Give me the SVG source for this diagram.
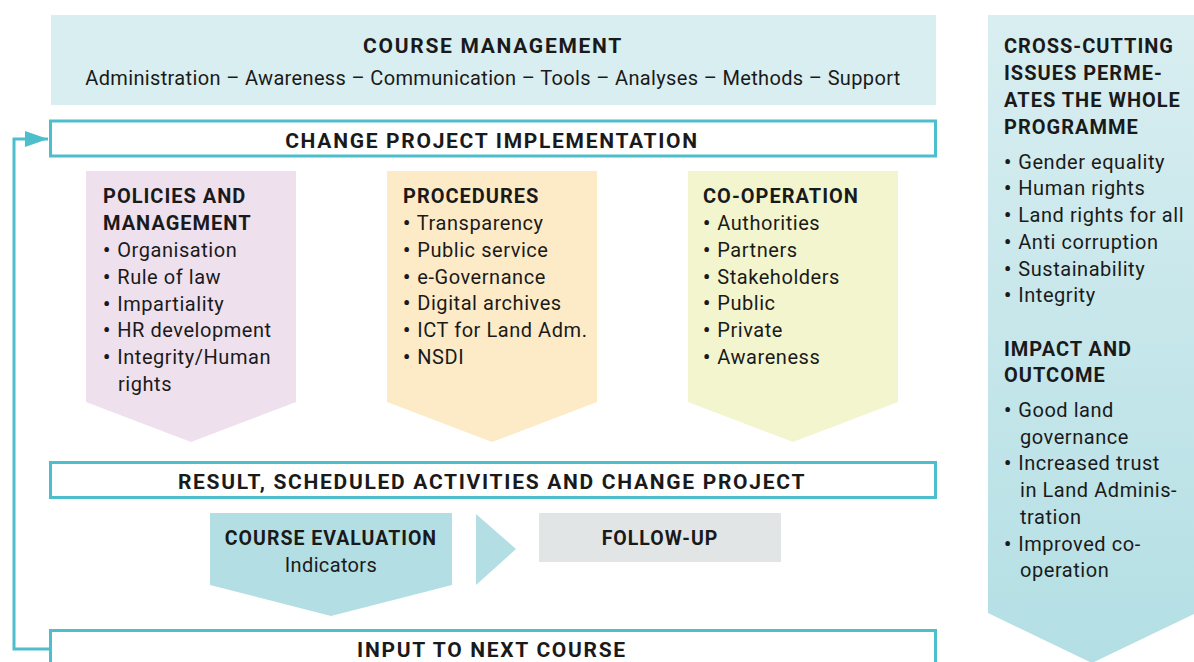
<svg xmlns="http://www.w3.org/2000/svg" width="1194" height="662" viewBox="0 0 1194 662">
<defs>
<style>
text{font-family:Roboto,"Liberation Sans",sans-serif;fill:#1a1a1a;}
.t{font-size:20px;font-weight:bold;letter-spacing:1px;}
.tc{font-size:21px;font-weight:bold;letter-spacing:1.7px;text-anchor:middle;}
.ts{font-size:19.5px;font-weight:bold;letter-spacing:1px;text-anchor:middle;}
.r{font-size:20px;letter-spacing:0.55px;}
.b{font-weight:bold;}
.rc{font-size:20px;letter-spacing:0.35px;text-anchor:middle;}
.bar{fill:#ffffff;stroke:#4dbfcc;stroke-width:3;}
.conn{fill:none;stroke:#4dbfcc;stroke-width:3;}
</style>
<linearGradient id="side" x1="0" y1="0" x2="0" y2="1">
<stop offset="0" stop-color="#d9eef1"/>
<stop offset="1" stop-color="#b3dfe4"/>
</linearGradient>
<marker id="ah" markerWidth="24" markerHeight="16" refX="23" refY="8" orient="auto" markerUnits="userSpaceOnUse">
<path d="M0,0 L23,8 L0,16 Z" fill="#4dbfcc"/>
</marker>
</defs>

<g id="connectors">
<path class="conn" d="M50,649 H14 V139 H48" marker-end="url(#ah)"/>
</g>

<g id="course-management">
<rect x="51" y="15" width="885" height="90" fill="#d9eef1"/>
<text class="tc" x="493" y="53">COURSE MANAGEMENT</text>
<text class="rc" x="493" y="85">Administration – Awareness – Communication – Tools – Analyses – Methods – Support</text>
</g>

<g id="change-project">
<rect class="bar" x="50.5" y="121" width="885" height="35"/>
<text class="tc" x="492" y="148">CHANGE PROJECT IMPLEMENTATION</text>
</g>

<g id="policies">
<polygon points="86,171 296,171 296,402 191,442 86,402" fill="#efe0ee"/>
<text class="t" x="103" y="203">POLICIES AND</text>
<text class="t" x="103" y="230">MANAGEMENT</text>
<text class="r" x="103" y="257"><tspan class="b">•</tspan><tspan dx="1"> Organisation</tspan></text>
<text class="r" x="103" y="284"><tspan class="b">•</tspan><tspan dx="1"> Rule of law</tspan></text>
<text class="r" x="103" y="311"><tspan class="b">•</tspan><tspan dx="1"> Impartiality</tspan></text>
<text class="r" x="103" y="337"><tspan class="b">•</tspan><tspan dx="1"> HR development</tspan></text>
<text class="r" x="103" y="364"><tspan class="b">•</tspan><tspan dx="1"> Integrity/Human</tspan></text>
<text class="r" x="118" y="391">rights</text>
</g>

<g id="procedures">
<polygon points="387,171 597,171 597,402 492,442 387,402" fill="#fdebc8"/>
<text class="t" x="403" y="203">PROCEDURES</text>
<text class="r" x="403" y="230"><tspan class="b">•</tspan><tspan dx="1"> Transparency</tspan></text>
<text class="r" x="403" y="257"><tspan class="b">•</tspan><tspan dx="1"> Public service</tspan></text>
<text class="r" x="403" y="284"><tspan class="b">•</tspan><tspan dx="1"> e-Governance</tspan></text>
<text class="r" x="403" y="310"><tspan class="b">•</tspan><tspan dx="1"> Digital archives</tspan></text>
<text class="r" x="403" y="337"><tspan class="b">•</tspan><tspan dx="1"> ICT for Land Adm.</tspan></text>
<text class="r" x="403" y="364"><tspan class="b">•</tspan><tspan dx="1"> NSDI</tspan></text>
</g>

<g id="cooperation">
<polygon points="688,171 898,171 898,402 793,442 688,402" fill="#f3f5cf"/>
<text class="t" x="703" y="203">CO-OPERATION</text>
<text class="r" x="703" y="230"><tspan class="b">•</tspan><tspan dx="1"> Authorities</tspan></text>
<text class="r" x="703" y="257"><tspan class="b">•</tspan><tspan dx="1"> Partners</tspan></text>
<text class="r" x="703" y="284"><tspan class="b">•</tspan><tspan dx="1"> Stakeholders</tspan></text>
<text class="r" x="703" y="310"><tspan class="b">•</tspan><tspan dx="1"> Public</tspan></text>
<text class="r" x="703" y="337"><tspan class="b">•</tspan><tspan dx="1"> Private</tspan></text>
<text class="r" x="703" y="364"><tspan class="b">•</tspan><tspan dx="1"> Awareness</tspan></text>
</g>

<g id="result">
<rect class="bar" x="50.5" y="462.5" width="885" height="35"/>
<text class="tc" x="492" y="489">RESULT, SCHEDULED ACTIVITIES AND CHANGE PROJECT</text>
</g>

<g id="course-evaluation">
<polygon points="210,513 452,513 452,585 331,616 210,585" fill="#b3dfe4"/>
<text class="ts" x="331" y="545">COURSE EVALUATION</text>
<text class="rc" x="331" y="572">Indicators</text>
</g>

<g id="flow-arrow">
<polygon points="476,514 516,549 476,585" fill="#b3dfe4"/>
</g>

<g id="follow-up">
<rect x="539" y="513" width="242" height="49" fill="#e2e5e6"/>
<text class="ts" x="660" y="545">FOLLOW-UP</text>
</g>

<g id="input-next">
<rect class="bar" x="50.5" y="630.5" width="885" height="40"/>
<text class="tc" x="492" y="657">INPUT TO NEXT COURSE</text>
</g>

<g id="cross-cutting">
<polygon points="988,15 1196,15 1196,613 1092,663 988,613" fill="url(#side)"/>
<text class="t" x="1004" y="53">CROSS-CUTTING</text>
<text class="t" x="1004" y="80">ISSUES PERME-</text>
<text class="t" x="1004" y="107">ATES THE WHOLE</text>
<text class="t" x="1004" y="134">PROGRAMME</text>
<text class="r" x="1004" y="169"><tspan class="b">•</tspan><tspan dx="1"> Gender equality</tspan></text>
<text class="r" x="1004" y="195"><tspan class="b">•</tspan><tspan dx="1"> Human rights</tspan></text>
<text class="r" x="1004" y="222"><tspan class="b">•</tspan><tspan dx="1"> Land rights for all</tspan></text>
<text class="r" x="1004" y="249"><tspan class="b">•</tspan><tspan dx="1"> Anti corruption</tspan></text>
<text class="r" x="1004" y="276"><tspan class="b">•</tspan><tspan dx="1"> Sustainability</tspan></text>
<text class="r" x="1004" y="302"><tspan class="b">•</tspan><tspan dx="1"> Integrity</tspan></text>
<text class="t" x="1004" y="356">IMPACT AND</text>
<text class="t" x="1004" y="382">OUTCOME</text>
<text class="r" x="1004" y="417"><tspan class="b">•</tspan><tspan dx="1"> Good land</tspan></text>
<text class="r" x="1020" y="444">governance</text>
<text class="r" x="1004" y="470"><tspan class="b">•</tspan><tspan dx="1"> Increased trust</tspan></text>
<text class="r" x="1020" y="497">in Land Adminis-</text>
<text class="r" x="1020" y="524">tration</text>
<text class="r" x="1004" y="551"><tspan class="b">•</tspan><tspan dx="1"> Improved co-</tspan></text>
<text class="r" x="1020" y="577">operation</text>
</g>
</svg>
